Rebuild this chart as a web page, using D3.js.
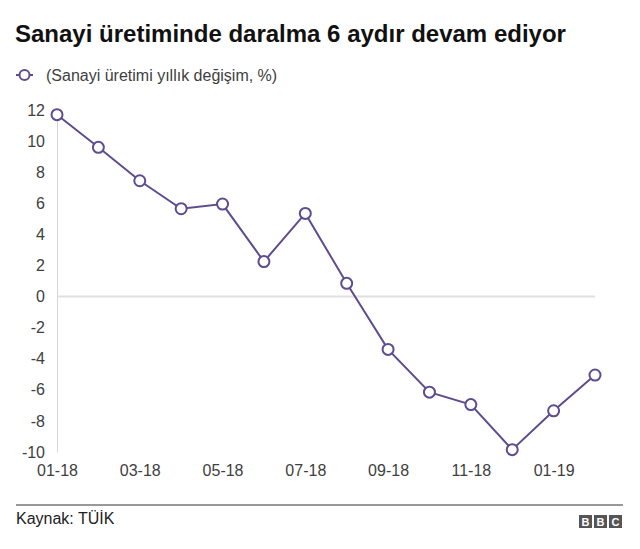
<!DOCTYPE html>
<html>
<head>
<meta charset="utf-8">
<script src="https://cdn.jsdelivr.net/npm/d3@7"></script>
<style>
  body { margin: 0; background: #fff; }
  svg { font-family: "Liberation Sans", Arial, sans-serif; }
</style>
</head>
<body>
<div class="chart"></div>
<script>
// months shown on the x axis (01-18 .. 02-19)
var months = ["01-18","02-18","03-18","04-18","05-18","06-18","07-18",
              "08-18","09-18","10-18","11-18","12-18","01-19","02-19"];
// annual change of industrial production, %
var values = [11.7, 9.6, 7.45, 5.65, 5.95, 2.25, 5.35,
              0.85, -3.4, -6.15, -6.95, -9.85, -7.35, -5.05];
var yTicks = [12, 10, 8, 6, 4, 2, 0, -2, -4, -6, -8, -10];
var xTickLabels = ["01-18","03-18","05-18","07-18","09-18","11-18","01-19"];

var w = 640, h = 549;
var purple = "#5e4c8f";
var textGrey = "#404040";

var svg = d3.select(".chart").append("svg")
  .attr("width", w)
  .attr("height", h);

// title
svg.append("text")
  .attr("x", 15).attr("y", 42)
  .attr("font-size", "24px")
  .attr("font-weight", "bold")
  .attr("fill", "#111")
  .text("Sanayi üretiminde daralma 6 aydır devam ediyor");

// legend
var leg = svg.append("g").attr("transform", "translate(0,75)");
leg.append("line").attr("x1", 16).attr("x2", 33).attr("y1", 0).attr("y2", 0)
  .attr("stroke", purple).attr("stroke-width", 2);
leg.append("circle").attr("cx", 24.5).attr("cy", 0).attr("r", 5)
  .attr("fill", "#fff").attr("stroke", purple).attr("stroke-width", 2);
leg.append("text").attr("x", 46).attr("y", 6)
  .attr("font-size", "16px").attr("fill", textGrey)
  .text("(Sanayi üretimi yıllık değişim, %)");

var x = d3.scaleLinear().domain([0, months.length - 1]).range([57, 595]);
var y = d3.scaleLinear().domain([-10, 12]).range([452, 110]);

// y axis
var yAxis = svg.append("g")
  .attr("transform", "translate(57,0)")
  .call(d3.axisLeft(y).tickValues(yTicks).tickSize(0).tickPadding(12)
        .tickFormat(function(d) { return d < 0 ? "-" + Math.abs(d) : d; }));
yAxis.select(".domain").attr("stroke", "#d6d6d6").attr("stroke-width", 1);
yAxis.selectAll("text").attr("font-size", "16px").attr("fill", textGrey)
  .attr("font-family", "Liberation Sans, Arial, sans-serif");

// zero line
svg.append("line")
  .attr("x1", x(0)).attr("x2", x(months.length - 1))
  .attr("y1", y(0)).attr("y2", y(0))
  .attr("stroke", "#e0e0e0").attr("stroke-width", 2);

// x axis labels
var xAxis = svg.append("g")
  .attr("transform", "translate(0,452)")
  .call(d3.axisBottom(x)
        .tickValues(xTickLabels.map(function(m) { return months.indexOf(m); }))
        .tickSize(0).tickPadding(13)
        .tickFormat(function(i) { return months[i]; }));
xAxis.select(".domain").remove();
xAxis.selectAll("text").attr("font-size", "16px").attr("fill", textGrey)
  .attr("font-family", "Liberation Sans, Arial, sans-serif");

// line + markers
var line = d3.line()
  .x(function(d, i) { return x(i); })
  .y(function(d) { return y(d); });
svg.append("path")
  .datum(values)
  .attr("d", line)
  .attr("fill", "none")
  .attr("stroke", purple)
  .attr("stroke-width", 2);

svg.selectAll("circle.pt")
  .data(values)
  .enter()
    .append("circle")
    .attr("class", "pt")
    .attr("cx", function(d, i) { return x(i); })
    .attr("cy", function(d) { return y(d); })
    .attr("r", 5.5)
    .attr("fill", "#fff")
    .attr("stroke", purple)
    .attr("stroke-width", 2);

// footer
svg.append("line")
  .attr("x1", 16).attr("x2", 623).attr("y1", 505).attr("y2", 505)
  .attr("stroke", "#333").attr("stroke-width", 1);
svg.append("text")
  .attr("x", 16).attr("y", 524)
  .attr("font-size", "16px").attr("fill", "#222")
  .text("Kaynak: TÜİK");

var bbc = svg.append("g").attr("transform", "translate(579,515)");
["B", "B", "C"].forEach(function(ch, i) {
  bbc.append("rect").attr("x", i * 15).attr("y", 0)
    .attr("width", 13).attr("height", 13).attr("fill", "#555");
  bbc.append("text").attr("x", i * 15 + 6.5).attr("y", 10.5)
    .attr("text-anchor", "middle").attr("font-size", "11px")
    .attr("font-weight", "bold").attr("fill", "#fff").text(ch);
});
</script>
</body>
</html>
